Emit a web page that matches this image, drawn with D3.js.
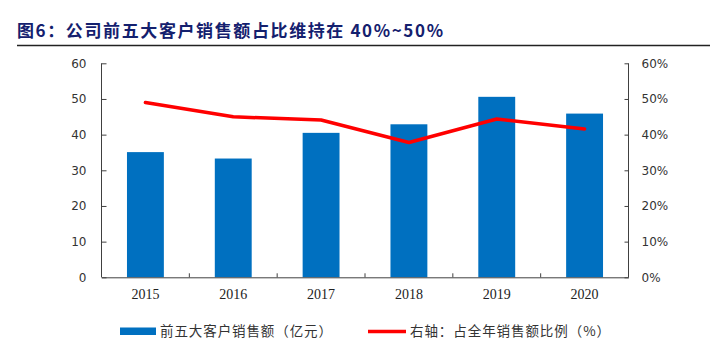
<!DOCTYPE html>
<html><head><meta charset="utf-8">
<script src="https://cdn.jsdelivr.net/npm/d3@7"></script>
<style>body{margin:0;background:#fff;}svg{display:block;}</style>
</head><body>
<svg id="c" width="715" height="340"></svg>
<script>
const years = ["2015","2016","2017","2018","2019","2020"];
const sales = [35.1, 33.3, 40.5, 42.9, 50.6, 45.9];
const share = [49.0, 45.0, 44.1, 37.8, 44.4, 41.6];
const leftTicks = [0,10,20,30,40,50,60];
const rightTicks = [0,10,20,30,40,50,60];
const titleText = "图6：公司前五大客户销售额占比维持在 40%~50%";
const legendBar = "前五大客户销售额（亿元）";
const legendLine = "右轴：占全年销售额比例（%）";

const svg = d3.select("#c");
const L = 101.5, R = 628.5, T = 63.3, B = 277.3;
const axisColor = "#404040";
const x = d3.scaleBand().domain(years).range([L, R]).paddingInner(0.58).paddingOuter(0.29);
const xb = d3.scaleBand().domain(years).range([L, R]);
const yL = d3.scaleLinear().domain([0,60]).range([B, T]);
const yR = d3.scaleLinear().domain([0,60]).range([B, T]);

// title
svg.append("text").attr("x",17).attr("y",37)
  .attr("font-family","'Noto Sans CJK SC', sans-serif").attr("font-weight","bold")
  .attr("font-size",17).attr("fill","#14206e")
  .attr("textLength",426).attr("lengthAdjust","spacing").text(titleText);
svg.append("line").attr("x1",17).attr("x2",710).attr("y1",45.5).attr("y2",45.5)
  .attr("stroke","#222").attr("stroke-width",1.6);

// bars
svg.append("g").selectAll("rect").data(years).join("rect")
  .attr("x", d=>x(d)).attr("width", x.bandwidth())
  .attr("y", (d,i)=>yL(sales[i])).attr("height",(d,i)=>B-yL(sales[i]))
  .attr("fill","#0070C0");

// line
const line = d3.line().x((d,i)=>xb(years[i])+xb.bandwidth()/2).y(d=>yR(d));
svg.append("path").datum(share).attr("d",line).attr("fill","none")
  .attr("stroke","#FF0000").attr("stroke-width",3.5).attr("stroke-linejoin","round").attr("stroke-linecap","round");

// axes
const gL = svg.append("g").attr("transform",`translate(${L},0)`)
  .call(d3.axisRight(yL).tickValues(leftTicks).tickSize(5).tickFormat(d=>d));
gL.selectAll("text").remove();
gL.selectAll("text.lbl").data(leftTicks).join("text").attr("class","lbl")
  .attr("x",-15).attr("y",d=>yL(d)).attr("dy","0.35em").attr("text-anchor","end").text(d=>d);

const gR = svg.append("g").attr("transform",`translate(${R},0)`)
  .call(d3.axisLeft(yR).tickValues(rightTicks).tickSize(4).tickFormat(d=>d+"%"));
gR.selectAll(".tick text").attr("x",13).attr("text-anchor","start");

const gX = svg.append("g").attr("transform",`translate(0,${B})`)
  .call(d3.axisBottom(xb).tickSize(0).tickSizeOuter(0));
gX.selectAll(".tick text").attr("dy",0).attr("y",22)
  .attr("font-family","'Liberation Serif', serif").attr("font-size",14).attr("fill","#222");
// separator ticks between bands
gX.selectAll("line.sep").data(years.slice(1)).join("line").attr("class","sep")
  .attr("x1",d=>xb(d)).attr("x2",d=>xb(d)).attr("y1",0).attr("y2",-4).attr("stroke",axisColor);

[gL,gR].forEach(g=>g.selectAll("text").attr("font-family","'DejaVu Sans', sans-serif")
  .attr("font-size",12).attr("fill","#333"));
[gL,gR,gX].forEach(g=>{g.selectAll("path.domain").attr("stroke",axisColor);g.selectAll(".tick line").attr("stroke",axisColor);});
gL.selectAll("path.domain").attr("d",`M0,${T}V${B}`);
gR.selectAll("path.domain").attr("d",`M0,${T}V${B}`);

// legend
const lg = svg.append("g").attr("font-family","'Noto Sans CJK SC', sans-serif").attr("font-size",13.5).attr("fill","#333");
lg.append("rect").attr("x",120).attr("y",327.5).attr("width",36).attr("height",7.5).attr("fill","#0070C0");
lg.append("text").attr("x",160).attr("y",331.5).attr("dy","0.35em").attr("textLength",172).attr("lengthAdjust","spacing").text(legendBar);
lg.append("line").attr("x1",368).attr("x2",406).attr("y1",331.5).attr("y2",331.5).attr("stroke","#FF0000").attr("stroke-width",3.5);
lg.append("text").attr("x",410).attr("y",331.5).attr("dy","0.35em").attr("textLength",200).attr("lengthAdjust","spacing").text(legendLine);
</script>
</body></html>
